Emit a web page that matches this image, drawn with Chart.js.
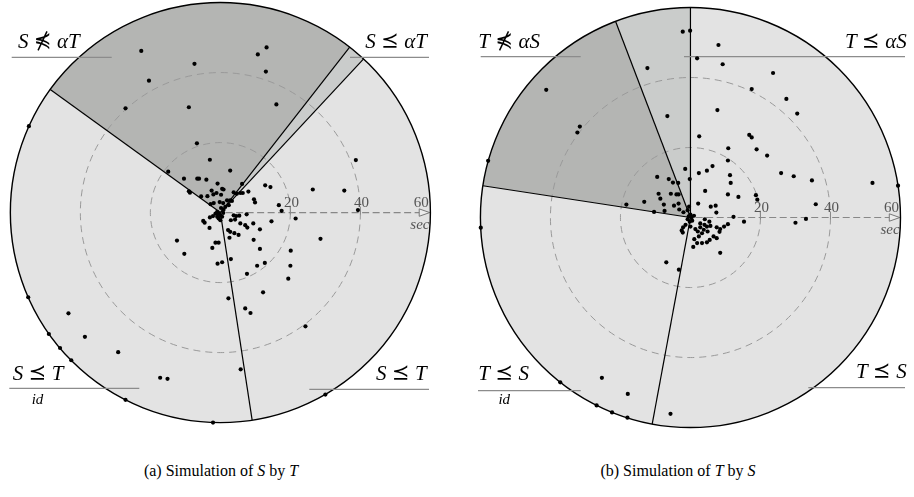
<!DOCTYPE html>
<html><head><meta charset="utf-8">
<script src="https://cdn.jsdelivr.net/npm/chart.js@4/dist/chart.umd.min.js"></script>
<style>
html,body{margin:0;padding:0;background:#fff;}
body{width:914px;height:497px;position:relative;overflow:hidden;}
canvas{position:absolute;top:0;}
#ca{left:0}
#cb{left:457px}
.cap{position:absolute;top:461px;line-height:20px;font-size:16px;font-family:"Liberation Serif","DejaVu Serif",serif;color:#000;white-space:nowrap;transform:translateX(-50%);}
</style></head><body>
<canvas id="ca" width="457" height="440"></canvas>
<canvas id="cb" width="457" height="440"></canvas>
<div class="cap" style="left:221px">(a) Simulation of <i>S</i> by <i>T</i></div>
<div class="cap" style="left:678px">(b) Simulation of <i>T</i> by <i>S</i></div>
<script>
// ---------- data (seconds; x = r·cos θ, y = r·sin θ) ----------
const radialTicks = [20, 40, 60];
const ringValues = [20, 40];
const axisMax = 60;

// (a) Simulation of S by T
const aX = [-22.6,13.2,10.7,-7.4,13.0,-20.4,16.0,-27.1,-9.0,-6.7,-3.0,2.8,-14.9,-10.4,-6.6,-6.1,-4.0,-9.0,-8.7,-0.8,-2.5,0.5,0.9,6.2,-5.5,-3.7,-2.0,-1.1,0.2,1.9,2.8,3.3,3.8,4.7,5.7,6.4,8.0,-0.2,0.8,-1.9,-2.8,
 38.7,12.8,14.3,26.4,35.4,9.6,9.9,16.7,17.5,39.3,21.5,14.6,28.6,9.4,7.5,5.4,3.8,4.5,3.0,4.2,5.7,7.1,7.7,11.3,2.2,2.8,4.0,5.2,2.6,9.5,11.3,20.1,20.0,19.4,12.7,10.5,7.6,3.0,12.2,2.3,7.1,8.6,24.3,5.8,30.0,
 -12.4,-10.3,-1.4,-0.5,-2.3,-0.8,0.5,-4.9,-4.5,-3.1,-3.0,-2.1,-43.4,-38.7,-29.2,-17.2,-15.1,-54.7,-54.9,-49.0,-45.8,-42.6,-27.1,-2.1,
 -0.9,-0.5,0.0,0.5,-0.5,0.0,-0.9,-1.4,0.8,0.9,0.2,1.4,2.4];
const aY = [46.2,47.2,45.2,42.5,40.3,37.7,30.9,29.8,30.1,19.8,15.1,12.0,11.7,9.7,9.7,9.7,9.4,6.1,5.7,8.3,6.3,6.8,6.6,8.2,4.6,4.7,5.2,5.6,5.1,3.5,3.5,3.3,5.8,5.4,5.6,5.6,6.0,3.0,2.7,2.7,2.4,
 15.0,7.8,7.3,6.6,6.3,3.8,2.9,2.1,0.5,0.7,-1.7,-2.5,-7.5,-3.1,-0.5,-0.9,-0.8,-1.0,-2.2,-2.0,-3.1,-3.6,-4.3,-4.8,-5.0,-5.5,-5.9,-6.4,-7.2,-7.8,-10.4,-10.9,-15.2,-18.9,-14.4,-15.2,-17.5,-13.3,-22.8,-24.5,-27.4,-28.7,-32.5,-44.8,-52.0,
 -8.0,-11.8,-8.6,-8.6,-10.1,-14.6,-14.2,-2.4,-2.9,-4.4,-1.4,-1.0,-28.8,-35.5,-39.9,-47.2,-47.5,24.7,-24.2,-34.7,-38.7,-42.2,-53.5,-60.0,
 0.2,-0.3,-0.8,-1.2,-1.7,-2.2,-1.2,-0.3,-0.1,0.8,1.3,1.6,2.1];

// (b) Simulation of T by S
const bX = [-2.2,-0.1,-12.3,-6.6,-1.5,-0.2,
 -41.2,-31.6,-32.3,-57.8,-9.5,-6.2,-5.0,-3.5,-9.1,-8.6,-5.6,-4.0,-3.4,-7.6,-7.4,-13.2,-18.3,-10.4,-4.7,-3.4,-3.2,-2.0,-0.8,-0.4,
 8.0,1.9,9.2,23.6,17.5,27.4,7.7,30.5,2.5,16.8,17.5,10.8,18.9,21.9,10.7,6.3,4.7,2.4,11.3,25.9,29.5,34.7,52.0,59.3,11.5,4.2,10.7,13.7,18.7,19.1,35.8,2.2,5.8,7.2,7.4,12.3,15.3,30.0,33.0,8.5,0.8,-5.7,
 4.1,5.4,4.0,4.7,2.8,5.7,7.5,8.5,9.6,10.7,8.3,7.5,6.6,5.5,4.7,3.3,1.9,1.1,2.4,3.3,2.1,3.8,4.9,2.8,1.4,0.0,-1.4,-2.1,-2.5,-2.2,
 -6.9,-3.3,-25.3,-17.9,-59.9,-37.2,-26.8,-22.4,-18.0,
 -0.5,0.3,-0.8,0.5,-0.2,1.0,0.0];
const bY = [53.1,53.4,42.7,29.0,13.9,11.0,
 36.5,26.0,24.3,16.2,11.6,11.0,10.0,9.9,6.8,5.4,6.8,6.6,6.6,3.7,1.9,4.5,3.7,1.6,3.4,4.0,2.3,1.5,2.1,3.1,
 49.3,45.5,43.8,41.3,36.7,33.9,30.7,29.7,23.2,23.6,22.9,19.8,19.5,17.7,16.3,14.7,13.4,12.7,12.1,12.7,11.8,10.6,9.9,9.1,9.9,7.6,6.6,5.9,6.4,5.1,3.8,4.0,3.1,3.4,1.4,0.2,-1.2,-1.5,-0.4,-10.1,-8.4,-56.1,
 -0.5,-1.2,-2.1,-2.6,-2.8,-2.4,-2.8,-3.3,-2.6,-1.9,-4.1,-5.9,-5.4,-6.4,-7.1,-7.3,-7.3,-6.2,-5.4,-4.5,-4.0,-3.5,-4.0,-1.7,-3.3,-2.6,-2.1,-2.8,-3.7,-4.3,
 -12.8,-14.9,-45.8,-50.4,-2.9,-47.1,-53.7,-55.7,-57.2,
 0.3,0.0,-0.5,-0.9,-1.2,0.5,0.8];

// sector boundary angles (degrees, counter-clockwise from the time axis)
const aBounds = [-81.3, 47.0, 52.0, 144.1];
const bBounds = [-100.5, 90.0, 110.9, 171.3];

// ---------- styling / layout ----------
const PPS = 3.533;               // pixels per second
const CANVAS_W = 457, CANVAS_H = 440;
const regionFills = ['#e3e3e3', '#cacccb', '#b4b5b3', '#e3e3e3'];
const SERIF = '"Liberation Serif", "DejaVu Serif", serif';
const IT = 'italic 21px ' + SERIF;
const REL = '21px "DejaVu Sans", "DejaVu Serif", sans-serif';

const aLabels = [
  {parts:[['S','i'],['\u22E0','r'],['\u03B1T','i']], x:18, y:47.5, align:'left', line:[11.7,111.7,57.3]},
  {parts:[['S','i'],['\u2AAF','r'],['\u03B1T','i']], x:427, y:47.5, align:'right', line:[350,429,57.3]},
  {parts:[['S','i'],['\u2AAF','r'],['T','i']], x:12.7, y:380, align:'left', line:[9.3,139.3,388.3], sub:'id'},
  {parts:[['S','i'],['\u2AAF','r'],['T','i']], x:426.7, y:380, align:'right', line:[309.3,429,389.3]}
];
const bLabels = [
  {parts:[['T','i'],['\u22E0','r'],['\u03B1S','i']], x:478.3-457, y:47.7, align:'left', line:[480.7-457,580.7-457,56.7]},
  {parts:[['T','i'],['\u2AAF','r'],['\u03B1S','i']], x:906.7-457, y:47.7, align:'right', line:[684-457,905-457,56.7]},
  {parts:[['T','i'],['\u2AAF','r'],['S','i']], x:478.3-457, y:380, align:'left', line:[478-457,580.7-457,390.7], sub:'id'},
  {parts:[['T','i'],['\u2AAF','r'],['S','i']], x:906.7-457, y:378.3, align:'right', line:[808.3-457,905-457,387.7]}
];

function drawMath(ctx, parts, x, y, align){
  const gap = 5.5;
  const widths = parts.map(p => { ctx.font = p[1]==='r' ? REL : IT; return ctx.measureText(p[0]).width; });
  let total = 0;
  parts.forEach((p,i) => { total += widths[i] + (p[1]==='r' ? 2*gap : 0); });
  let cur = align === 'right' ? x - total : x;
  let relCenter = cur;
  ctx.textAlign = 'left'; ctx.textBaseline = 'alphabetic'; ctx.fillStyle = '#000';
  parts.forEach((p,i) => {
    if (p[1]==='r') cur += gap;
    ctx.font = p[1]==='r' ? REL : IT;
    ctx.fillText(p[0], cur, y + (p[1]==='r' ? -1 : 0));
    if (p[1]==='r') relCenter = cur + widths[i]/2;
    cur += widths[i];
    if (p[1]==='r') cur += gap;
  });
  return relCenter;
}

function decoPlugin(bounds, labels){
  return {
    id: 'polarDeco',
    beforeDatasetsDraw(chart){
      const ctx = chart.ctx, xs = chart.scales.x, ys = chart.scales.y;
      const cx = xs.getPixelForValue(0), cy = ys.getPixelForValue(0);
      const rp = v => xs.getPixelForValue(v) - cx;
      const R = rp(axisMax);
      const rad = d => -d*Math.PI/180;
      ctx.save();
      for (let i=0;i<bounds.length;i++){
        const a1 = bounds[i], a2 = i+1<bounds.length ? bounds[i+1] : bounds[0]+360;
        ctx.beginPath(); ctx.moveTo(cx,cy);
        ctx.arc(cx,cy,R,rad(a1),rad(a2),true);
        ctx.closePath(); ctx.fillStyle = regionFills[i]; ctx.fill();
      }
      ctx.setLineDash([7,5]); ctx.strokeStyle = '#9a9a9a'; ctx.lineWidth = 1;
      ringValues.forEach(v => { ctx.beginPath(); ctx.arc(cx,cy,rp(v),0,Math.PI*2); ctx.stroke(); });
      const arrowBase = rp(56.8), arrowTip = rp(59.8);
      ctx.setLineDash([7,3.5]); ctx.strokeStyle = '#888'; ctx.lineWidth = 1.2;
      ctx.beginPath(); ctx.moveTo(cx+rp(1.5),cy); ctx.lineTo(cx+arrowBase,cy); ctx.stroke();
      ctx.setLineDash([]);
      ctx.beginPath(); ctx.moveTo(cx+arrowBase,cy-3.7); ctx.lineTo(cx+arrowTip,cy); ctx.lineTo(cx+arrowBase,cy+3.7); ctx.closePath();
      ctx.fillStyle = '#ececec'; ctx.fill(); ctx.strokeStyle = '#777'; ctx.lineWidth = 1; ctx.stroke();
      ctx.font = '15px ' + SERIF; ctx.fillStyle = '#555'; ctx.textAlign = 'center'; ctx.textBaseline = 'alphabetic';
      radialTicks.forEach(v => {
        if (v < axisMax){
          ctx.beginPath(); ctx.moveTo(cx+rp(v),cy-6); ctx.lineTo(cx+rp(v),cy+2); ctx.strokeStyle='#888'; ctx.lineWidth=1; ctx.stroke();
          ctx.fillText(String(v), cx+rp(v)+1, cy-5.5);
        } else {
          ctx.fillText(String(v), cx+rp(57.4), cy-5.5);
        }
      });
      ctx.font = 'italic 15px ' + SERIF;
      ctx.fillText('sec', cx+rp(57.0), cy+16.5);
      ctx.strokeStyle = '#000'; ctx.lineWidth = 1.2;
      bounds.forEach(d => {
        ctx.beginPath(); ctx.moveTo(cx,cy);
        ctx.lineTo(cx+R*Math.cos(d*Math.PI/180), cy-R*Math.sin(d*Math.PI/180)); ctx.stroke();
      });
      ctx.lineWidth = 1.4;
      ctx.beginPath(); ctx.arc(cx,cy,R,0,Math.PI*2); ctx.stroke();
      labels.forEach(L => {
        ctx.strokeStyle = '#8c8c8c'; ctx.lineWidth = 1.2;
        ctx.beginPath(); ctx.moveTo(L.line[0],L.line[2]); ctx.lineTo(L.line[1],L.line[2]); ctx.stroke();
        const rc = drawMath(ctx, L.parts, L.x, L.y, L.align);
        if (L.sub){
          ctx.font = 'italic 15px ' + SERIF; ctx.textAlign = 'center'; ctx.fillStyle='#000';
          ctx.fillText(L.sub, rc, L.y + 24);
        }
      });
      ctx.restore();
    }
  };
}

function makeChart(id, xs, ys, bounds, labels, cxPix, cyPix){
  const pts = xs.map((x,i) => ({x, y: ys[i]}));
  return new Chart(document.getElementById(id), {
    type: 'scatter',
    data: { datasets: [{ data: pts, backgroundColor: '#000', borderWidth: 0, pointRadius: 2.1, pointHoverRadius: 2.1 }] },
    options: {
      responsive: false, animation: false, devicePixelRatio: 1,
      layout: { padding: 0 },
      plugins: { legend: { display: false }, tooltip: { enabled: false } },
      scales: {
        x: { type: 'linear', display: false, min: -cxPix/PPS, max: (CANVAS_W-cxPix)/PPS },
        y: { type: 'linear', display: false, min: -(CANVAS_H-cyPix)/PPS, max: cyPix/PPS }
      }
    },
    plugins: [decoPlugin(bounds, labels)]
  });
}

makeChart('ca', aX, aY, aBounds, aLabels, 220.3, 212.5);
makeChart('cb', bX, bY, bBounds, bLabels, 690.5-457, 217.5);
</script>
</body></html>
